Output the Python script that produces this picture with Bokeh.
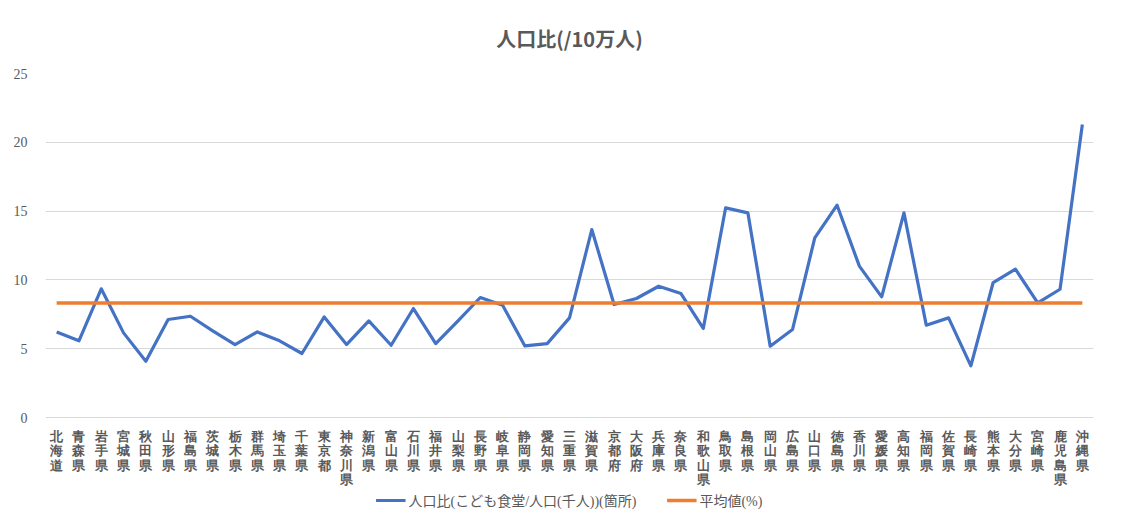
from bokeh.plotting import figure
from bokeh.models import (FactorRange, Range1d, FixedTicker, Legend, LegendItem,
                          LabelSet, ColumnDataSource)
from bokeh.embed import file_html
from bokeh.resources import INLINE

prefectures = ["北海道", "青森県", "岩手県", "宮城県", "秋田県", "山形県", "福島県", "茨城県",
               "栃木県", "群馬県", "埼玉県", "千葉県", "東京都", "神奈川県", "新潟県", "富山県",
               "石川県", "福井県", "山梨県", "長野県", "岐阜県", "静岡県", "愛知県", "三重県",
               "滋賀県", "京都府", "大阪府", "兵庫県", "奈良県", "和歌山県", "鳥取県", "島根県",
               "岡山県", "広島県", "山口県", "徳島県", "香川県", "愛媛県", "高知県", "福岡県",
               "佐賀県", "長崎県", "熊本県", "大分県", "宮崎県", "鹿児島県", "沖縄県"]

ratio_values = [6.22, 5.57, 9.35, 6.15, 4.09, 7.12, 7.36, 6.30,
                5.30, 6.22, 5.57, 4.65, 7.31, 5.30, 7.02, 5.25,
                7.92, 5.37, 7.02, 8.72, 8.16, 5.20, 5.37, 7.24,
                13.66, 8.21, 8.65, 9.54, 9.01, 6.47, 15.23, 14.87,
                5.18, 6.39, 13.05, 15.43, 11.00, 8.77, 14.87, 6.71,
                7.24, 3.75, 9.81, 10.78, 8.33, 9.32, 21.29]

avg_values = [8.33] * 47

y_ticks = [0, 5, 10, 15, 20, 25]

series_names = ["人口比(こども食堂/人口(千人))(箇所)", "平均値(%)"]
title_text = "人口比(/10万人)"

TEXT = "#595959"
GRID = "#d9d9d9"
FONT = "'Liberation Serif', 'Noto Sans CJK JP'"

# layout (pixels)
W, H = 1127, 518
TOP, LEFT, RIGHT = 73, 45, 34
PLOT_H = 344            # height of the 0..25 value band
Y_MAX = y_ticks[-1]
px_per_unit = PLOT_H / Y_MAX
below_px = H - TOP - PLOT_H   # room for vertical labels and legend inside the frame
y_start = -below_px / px_per_unit

p = figure(width=W, height=H, output_backend="svg", toolbar_location=None,
           x_range=FactorRange(factors=prefectures, range_padding=0),
           y_range=Range1d(y_start, Y_MAX), x_axis_location=None,
           min_border_left=LEFT, min_border_right=RIGHT, min_border_top=TOP, min_border_bottom=0,
           title=title_text)

p.title.align = "center"
p.title.text_font_size = "20px"
p.title.text_font_style = "bold"
p.title.text_color = TEXT
p.title.text_font = "Noto Sans CJK JP"
p.title.standoff = 42

p.outline_line_color = None
p.xgrid.grid_line_color = None
p.ygrid.grid_line_color = GRID
p.ygrid.grid_line_width = 1
p.yaxis.ticker = FixedTicker(ticks=y_ticks)

yax = p.yaxis[0]
yax.axis_line_color = None
yax.major_tick_line_color = None
yax.minor_tick_line_color = None
yax.major_label_text_color = TEXT
yax.major_label_text_font_size = "14px"
yax.major_label_text_font = FONT
yax.major_label_standoff = 12

# vertical (top-to-bottom) category labels, one character per row
FIRST_GAP, ROW_PITCH = 11, 14.5
lab_x, lab_text, lab_y = [], [], []
for name in prefectures:
    for k, ch in enumerate(name):
        lab_x.append(name)
        lab_text.append(ch)
        lab_y.append(-(FIRST_GAP + k * ROW_PITCH) / px_per_unit)
labels = LabelSet(x="x", y="y", text="text",
                  source=ColumnDataSource(dict(x=lab_x, y=lab_y, text=lab_text)),
                  text_align="center", text_baseline="top",
                  text_font_size="13px", text_font=FONT, text_font_style="bold",
                  text_color=TEXT)
p.add_layout(labels)

r1 = p.line(prefectures, ratio_values, line_color="#4472C4", line_width=3.2, line_join="round")
r2 = p.line(prefectures, avg_values, line_color="#ED7D31", line_width=3.5)

legend = Legend(items=[LegendItem(label=series_names[0], renderers=[r1]),
                       LegendItem(label=series_names[1], renderers=[r2])],
                orientation="horizontal", location="bottom_center",
                background_fill_alpha=0, border_line_color=None,
                label_text_font_size="14px", label_text_color=TEXT, label_text_font=FONT,
                glyph_width=30, glyph_height=14, label_height=14, padding=0, margin=8,
                spacing=30, label_standoff=3)
p.add_layout(legend)

open("out.html", "w").write(file_html(p, INLINE))
